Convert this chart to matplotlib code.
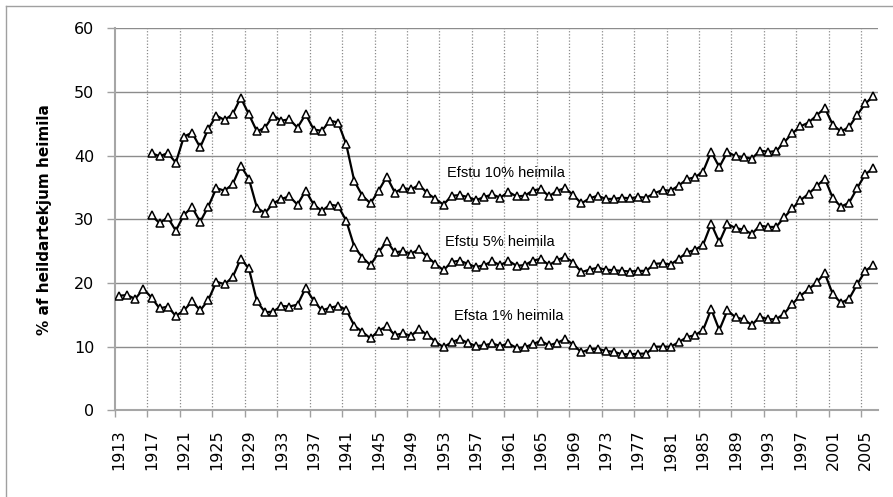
import matplotlib
matplotlib.use('Agg')
import matplotlib.pyplot as plt
from matplotlib.lines import Line2D

years_top1 = list(range(1913, 2007))
top1 = [18.0, 18.1, 17.5, 19.1, 17.7, 16.0, 16.3, 14.8, 15.7, 17.1, 15.7, 17.3,
        20.2, 19.8, 20.9, 23.8, 22.3, 17.1, 15.4, 15.5, 16.4, 16.3, 16.6, 19.2,
        17.2, 15.7, 16.1, 16.4, 15.8, 13.3, 12.3, 11.3, 12.5, 13.2, 11.8, 12.1,
        11.7, 12.8, 11.8, 10.8, 9.9, 10.7, 11.2, 10.6, 10.1, 10.2, 10.5, 10.1,
        10.5, 9.8, 9.9, 10.4, 10.9, 10.2, 10.6, 11.2, 10.3, 9.1, 9.6, 9.7,
        9.3, 9.2, 8.8, 8.8, 8.9, 8.9, 10.0, 10.0, 10.0, 10.7, 11.5, 11.8,
        12.6, 15.9, 12.6, 15.7, 14.6, 14.3, 13.4, 14.7, 14.3, 14.3, 15.2, 16.7,
        18.0, 19.0, 20.1, 21.5, 18.2, 16.9, 17.5, 19.8, 21.9, 22.8]

years_top5_10 = list(range(1917, 2007))
top5 = [30.6, 29.4, 30.3, 28.2, 30.7, 31.9, 29.6, 32.0, 34.9, 34.5, 35.5, 38.4,
        36.4, 31.8, 31.0, 32.5, 33.2, 33.6, 32.3, 34.5, 32.3, 31.3, 32.3, 32.1,
        29.8, 25.7, 24.0, 22.8, 24.8, 26.6, 24.8, 25.0, 24.6, 25.3, 24.1, 23.0,
        22.0, 23.3, 23.5, 23.0, 22.5, 22.8, 23.4, 22.8, 23.5, 22.7, 22.8, 23.5,
        23.8, 22.8, 23.6, 24.1, 23.2, 21.7, 22.1, 22.4, 22.1, 22.0, 21.9, 21.8,
        21.9, 21.9, 23.0, 23.1, 22.9, 23.8, 24.8, 25.2, 26.0, 29.3, 26.4, 29.3,
        28.6, 28.4, 27.7, 29.0, 28.8, 28.8, 30.3, 31.7, 33.0, 34.0, 35.2, 36.4,
        33.3, 32.0, 32.6, 34.9, 37.1, 38.0]

top10 = [40.4, 39.9, 40.4, 38.9, 43.0, 43.6, 41.3, 44.2, 46.3, 45.6, 46.5, 49.1,
         46.5, 43.8, 44.4, 46.3, 45.5, 45.7, 44.4, 46.5, 44.1, 43.9, 45.5, 45.2,
         41.8, 36.0, 33.7, 32.5, 34.5, 36.7, 34.2, 34.9, 34.7, 35.4, 34.1, 33.2,
         32.3, 33.7, 33.8, 33.5, 33.0, 33.5, 33.9, 33.4, 34.3, 33.6, 33.7, 34.5,
         34.8, 33.6, 34.5, 34.9, 33.8, 32.5, 33.3, 33.7, 33.2, 33.2, 33.4, 33.3,
         33.5, 33.4, 34.1, 34.6, 34.5, 35.3, 36.3, 36.6, 37.5, 40.6, 38.2, 40.6,
         39.9, 39.8, 39.5, 40.8, 40.6, 40.7, 42.1, 43.5, 44.6, 45.2, 46.3, 47.5,
         44.8, 43.8, 44.5, 46.4, 48.2, 49.3]

series_labels = ["Efstu 10% heimila", "Efstu 5% heimila", "Efsta 1% heimila"]
label_pos = [(1960.7, 37.2), (1959.9, 26.4), (1961.1, 14.8)]
tick_years = list(range(1913, 2006, 4))
y_ticks = [0, 10, 20, 30, 40, 50, 60]
y_label = "% af heildartekjum heimila"

fig = plt.figure(figsize=(8.93, 4.97), dpi=100)
ax = fig.add_axes([115 / 893, 1 - 410.3 / 497, (877.5 - 115) / 893, (410.3 - 28.3) / 497])

mk = dict(color='black', lw=1.6, marker='^', markersize=5.5,
          markerfacecolor='white', markeredgecolor='black', markeredgewidth=1.1,
          zorder=3)
ax.plot(years_top5_10, top10, **mk)
ax.plot(years_top5_10, top5, **mk)
ax.plot(years_top1, top1, **mk)

ax.set_xlim(1912.5, 2006.5)
ax.set_ylim(0, 60)

# category boundaries every 4 years
bounds = [y - 0.5 for y in range(1913, 2006, 4)]
ax.set_xticks(bounds)
ax.set_xticklabels([])
ax.set_xticks(tick_years, minor=True)
ax.set_xticklabels([str(y) for y in tick_years], minor=True, rotation=90,
                   fontsize=11.5, family='DejaVu Sans')
ax.tick_params(axis='x', which='major', length=5, width=1, color='#a0a0a0', direction='out')
ax.tick_params(axis='x', which='minor', length=0, pad=14)
for b in bounds[1:]:
    ax.axvline(b, color='#8a8a8a', lw=0.9, ls=(0, (1, 1.5)), zorder=1)

ax.set_yticks(y_ticks)
ax.set_yticklabels([str(v) for v in y_ticks], fontsize=11.5, family='DejaVu Sans')
ax.tick_params(axis='y', length=6, width=1, color='#a0a0a0', pad=9)
for v in y_ticks[1:]:
    ax.axhline(v, color='#8c8c8c', lw=1.0, zorder=1)

for s in ['top', 'right']:
    ax.spines[s].set_visible(False)
for s in ['left', 'bottom']:
    ax.spines[s].set_color('#a6a6a6')
    ax.spines[s].set_linewidth(1.5)

fig.text(45 / 893, 1 - 220 / 497, y_label, rotation=90, ha='center', va='center',
         fontsize=11, fontweight='bold', family='DejaVu Sans')

for lab, (x, y) in zip(series_labels, label_pos):
    ax.text(x, y, lab, ha='center', va='center', fontsize=10.5,
            family='Liberation Sans', zorder=4)

# chart-area border (left and top visible)
fig.add_artist(Line2D([5.5 / 893, 5.5 / 893], [0, 1 - 6 / 497], color='#a0a0a0', lw=1,
                      transform=fig.transFigure))
fig.add_artist(Line2D([5.5 / 893, 1], [1 - 6 / 497, 1 - 6 / 497], color='#a0a0a0', lw=1,
                      transform=fig.transFigure))

fig.savefig('out.png', dpi=100)
